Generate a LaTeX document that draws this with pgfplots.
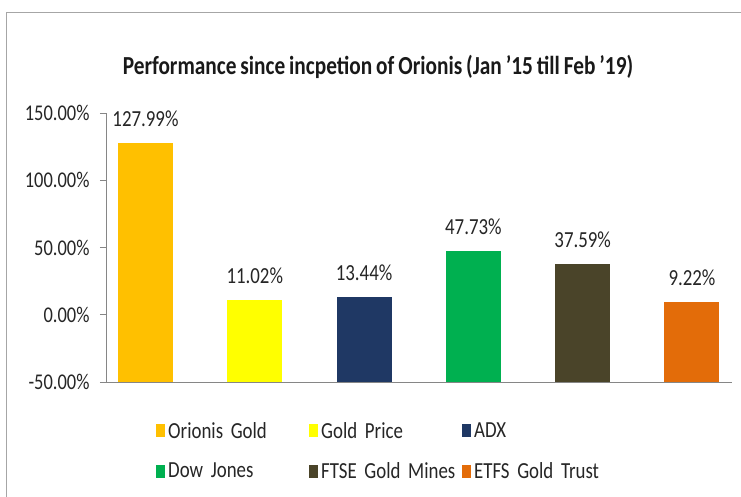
\documentclass[border=0pt]{standalone}
\usepackage{fontspec}
\setmainfont{Carlito}[FakeStretch=0.82, WordSpace=0.82]
\usepackage{pgfplots}
\pgfplotsset{compat=1.18}
\definecolor{cOrionis}{HTML}{FFC000}
\definecolor{cGold}{HTML}{FFFF00}
\definecolor{cADX}{HTML}{1F3864}
\definecolor{cDow}{HTML}{00B050}
\definecolor{cFTSE}{HTML}{4A4429}
\definecolor{cETFS}{HTML}{E36C09}
\definecolor{axgray}{HTML}{868686}
\begin{document}
\begin{tikzpicture}[x=1pt,y=1pt]
\useasboundingbox (-106,-115) rectangle (635,382);
\fill[white] (-106,-115) rectangle (635,382);
\draw[gray!70, line width=1pt] (-99,-115) -- (-99,369) -- (635,369);
\begin{axis}[
  at={(0,0)}, anchor=south west, scale only axis,
  width=626pt, height=269pt,
  xmin=-0.361, xmax=5.366,
  ymin=-50, ymax=150,
  y coord trafo/.code={\pgfmathparse{#1+50}},
  y coord inv trafo/.code={\pgfmathparse{#1-50}},
  ytick={-50,0,50,100,150},
  yticklabels={-50.00\%,0.00\%,50.00\%,100.00\%,150.00\%},
  xtick=\empty,
  axis lines*=left,
  axis line style={axgray, line width=0.8pt},
  y tick style={axgray, line width=0.8pt},
  tick align=outside,
  major tick length=6pt,
  yticklabel style={font=\fontsize{22.5}{26}\selectfont, text=black!85, xshift=-7pt},
  ybar, bar width=55pt, bar shift=0pt,
  point meta=explicit symbolic,
  nodes near coords,
  every node near coord/.append style={font=\fontsize{23}{26}\selectfont, text=black!85, anchor=south, inner sep=0pt, yshift=16pt},
  legend columns=3,
  legend image code/.code={\fill[#1] (0pt,-6.5pt) rectangle (9pt,6.5pt);},
  legend style={at={(0.0799,-0.141)}, anchor=north west, draw=none, fill=none, inner sep=0pt,
    font=\fontsize{23}{26}\selectfont, text=black!85,
    nodes={text width=138pt, align=left, inner xsep=3pt},
    /tikz/every even column/.append style={column sep=0pt},
    row sep=19pt},
]
\addplot[fill=cOrionis, draw=none] coordinates {(0,127.99) [127.99\%]};
\addlegendentry{Orionis Gold}
\addplot[fill=cGold, draw=none] coordinates {(1,11.02) [11.02\%]};
\addlegendentry{Gold Price}
\addplot[fill=cADX, draw=none] coordinates {(2,13.44) [13.44\%]};
\addlegendentry{ADX}
\addplot[fill=cDow, draw=none] coordinates {(3,47.73) [47.73\%]};
\addlegendentry{Dow Jones}
\addplot[fill=cFTSE, draw=none] coordinates {(4,37.59) [37.59\%]};
\addlegendentry{FTSE Gold Mines}
\addplot[fill=cETFS, draw=none] coordinates {(5,9.22) [9.22\%]};
\addlegendentry{ETFS Gold Trust}
\end{axis}
\node[font=\fontsize{26}{30}\selectfont\bfseries, text=black!90] at (272,315) {Performance since incpetion of Orionis (Jan '15 till Feb '19)};
\end{tikzpicture}
\end{document}
